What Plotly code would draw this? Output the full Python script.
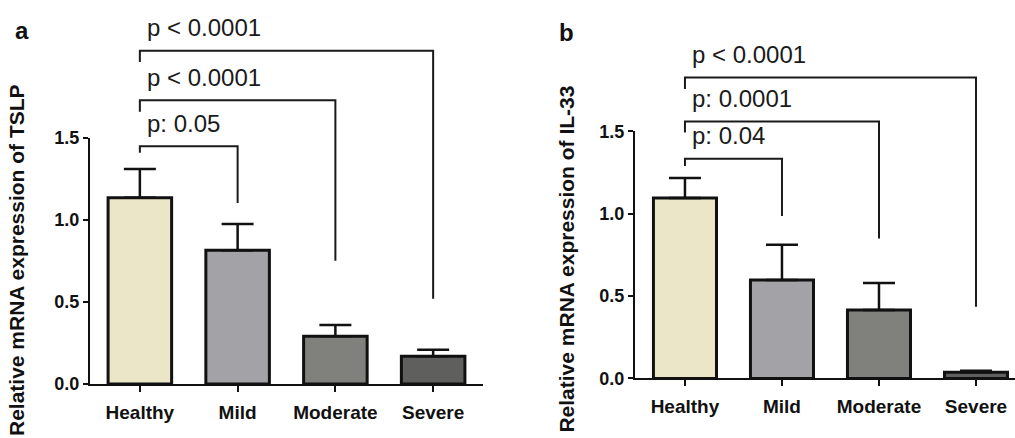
import plotly.graph_objects as go

# ---------------- data ----------------
categories = ["Healthy", "Mild", "Moderate", "Severe"]

tslp_mean = [1.135, 0.816, 0.292, 0.170]
tslp_sem = [0.175, 0.159, 0.068, 0.040]

il33_mean = [1.096, 0.598, 0.415, 0.037]
il33_sem = [0.122, 0.214, 0.164, 0.010]

y_ticks = [0.0, 0.5, 1.0, 1.5]
y_tick_labels = ["0.0", "0.5", "1.0", "1.5"]

# comparisons: Healthy vs Mild / Moderate / Severe
tslp_p_labels = ["p: 0.05", "p < 0.0001", "p < 0.0001"]
tslp_bracket_top = [1.449, 1.730, 2.031]
tslp_bracket_left = [1.410, 1.659, 1.963]
tslp_bracket_right = [1.103, 0.752, 0.520]

il33_p_labels = ["p: 0.04", "p: 0.0001", "p < 0.0001"]
il33_bracket_top = [1.335, 1.561, 1.828]
il33_bracket_left = [1.291, 1.494, 1.758]
il33_bracket_right = [0.986, 0.850, 0.435]

bar_colors = ["#ebe6c8", "#a3a3a7", "#80807c", "#5f5f5d"]

# ---------------- layout helpers ----------------
W, H = 1015, 438
FONT = "Liberation Sans, Arial, Helvetica, sans-serif"
INK = "#111111"

fig = go.Figure()
positions = list(range(len(categories)))


def add_panel(n, mean, sem, p_labels, b_top, b_left, b_right,
              x_px, zero_px, top_px, xrange, ytitle, title_x, title_y,
              letter, letter_xy):
    xa = "x" if n == 1 else f"x{2*n-1}"
    ya = "y" if n == 1 else f"y{2*n-1}"
    xb, yb = f"x{2*n}", f"y{2*n}"

    fig.add_trace(go.Bar(
        x=positions, y=mean, xaxis=xa, yaxis=ya, width=0.65,
        marker=dict(color=bar_colors, line=dict(color=INK, width=3)),
        error_y=dict(type="data", array=sem, arrayminus=[0] * len(sem),
                     symmetric=False, color=INK, thickness=2.5, width=16),
        showlegend=False, hoverinfo="skip",
    ))

    bx, by = [], []
    for i, lbl in enumerate(p_labels):
        j = i + 1
        bx += [positions[0], positions[0], positions[j], positions[j], None]
        by += [b_left[i], b_top[i], b_top[i], b_right[i], None]
        fig.add_annotation(
            x=positions[0], y=b_top[i], xref=xb, yref=yb, text=lbl,
            showarrow=False, xanchor="left", yanchor="middle",
            xshift=5, yshift=23,
            font=dict(family=FONT, size=24, color="#1a1a1a"),
        )
    fig.add_trace(go.Scatter(
        x=bx, y=by, xaxis=xb, yaxis=yb, mode="lines",
        line=dict(color="#1a1a1a", width=2),
        showlegend=False, hoverinfo="skip",
    ))

    xdom = [x_px[0] / W, min(x_px[1] / W, 1.0)]
    ydom_bar = [(H - zero_px) / H, (H - top_px) / H]
    ydom_br = [(H - zero_px) / H, 1.0]
    br_top = y_ticks[-1] * zero_px / (zero_px - top_px)

    axn = lambda a: a.replace("x", "xaxis").replace("y", "yaxis")
    fig.layout[axn(xa)] = dict(
        domain=xdom, range=xrange, anchor=ya,
        tickmode="array", tickvals=positions, ticktext=categories,
        ticks="outside", ticklen=6, tickwidth=2, tickcolor=INK,
        ticklabelstandoff=4,
        showline=True, linewidth=2, linecolor=INK,
        showgrid=False, zeroline=False, fixedrange=True,
        tickfont=dict(family=FONT, size=19, color=INK, weight="bold"),
    )
    fig.layout[axn(ya)] = dict(
        domain=ydom_bar, range=[0, y_ticks[-1]], anchor=xa,
        tickmode="array", tickvals=y_ticks, ticktext=y_tick_labels,
        ticks="outside", ticklen=5, tickwidth=2, tickcolor=INK,
        showline=True, linewidth=2, linecolor=INK,
        showgrid=False, zeroline=False, fixedrange=True,
        tickfont=dict(family=FONT, size=18, color=INK, weight="bold"),
    )
    fig.layout[axn(xb)] = dict(domain=xdom, range=xrange, anchor=yb,
                               visible=False, fixedrange=True)
    fig.layout[axn(yb)] = dict(domain=ydom_br, range=[0, br_top], anchor=xb,
                               visible=False, fixedrange=True)

    fig.add_annotation(
        x=title_x / W, y=1 - title_y / H, xref="paper", yref="paper",
        text=ytitle, textangle=-90, showarrow=False,
        xanchor="center", yanchor="middle",
        font=dict(family=FONT, size=21, color=INK, weight="bold"),
    )
    fig.add_annotation(
        x=letter_xy[0] / W, y=1 - letter_xy[1] / H, xref="paper", yref="paper",
        text=letter, showarrow=False, xanchor="center", yanchor="middle",
        font=dict(family=FONT, size=24, color=INK, weight="bold"),
    )


add_panel(1, tslp_mean, tslp_sem, tslp_p_labels,
          tslp_bracket_top, tslp_bracket_left, tslp_bracket_right,
          x_px=(90, 483), zero_px=392, top_px=134, xrange=[-0.51, 3.51],
          ytitle="Relative mRNA expression of TSLP", title_x=16, title_y=262,
          letter="a", letter_xy=(21.5, 21))

add_panel(2, il33_mean, il33_sem, il33_p_labels,
          il33_bracket_top, il33_bracket_left, il33_bracket_right,
          x_px=(635, 1015), zero_px=386, top_px=127.3, xrange=[-0.515, 3.402],
          ytitle="Relative mRNA expression of IL-33", title_x=566.5, title_y=261,
          letter="b", letter_xy=(566.5, 24))

fig.update_layout(
    width=W, height=H,
    margin=dict(l=0, r=0, t=0, b=0),
    paper_bgcolor="white", plot_bgcolor="rgba(0,0,0,0)",
    bargap=0.3,
)

fig.write_html("out.html", config={"displayModeBar": False})
